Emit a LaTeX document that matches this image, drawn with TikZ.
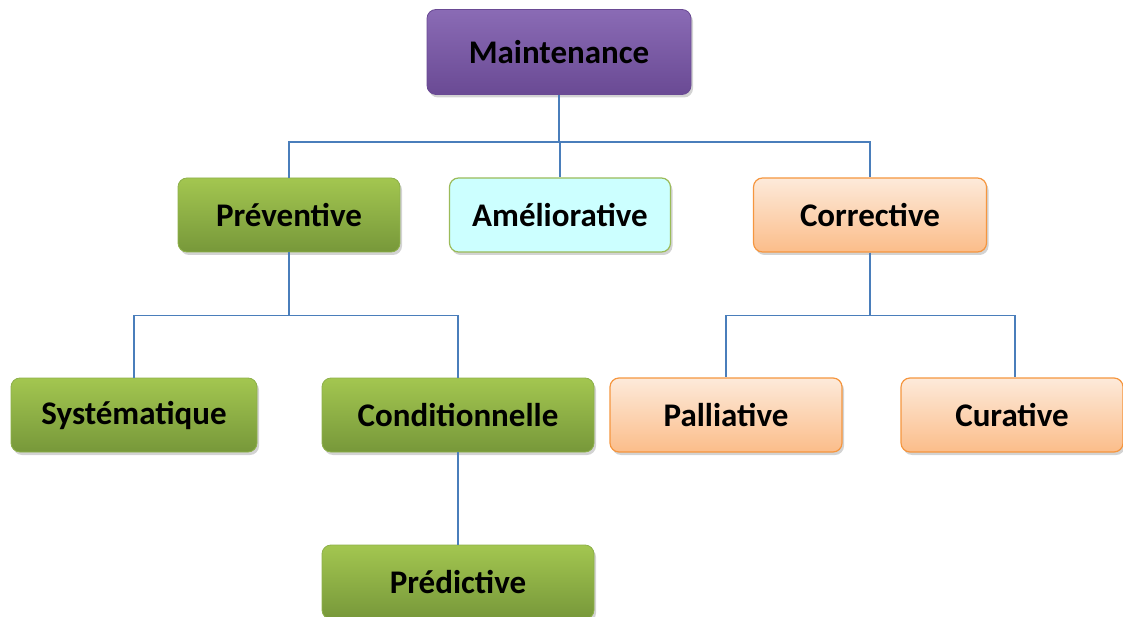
\documentclass[tikz,border=0pt]{standalone}
\usepackage{fontspec}
\setmainfont{Carlito}
\usetikzlibrary{shadows}
\definecolor{conn}{HTML}{4A7EBB}
\definecolor{gtop}{HTML}{A3C650}
\definecolor{gbot}{HTML}{77983A}
\definecolor{gline}{HTML}{8DB04A}
\definecolor{ptop}{HTML}{8A6BB5}
\definecolor{pbot}{HTML}{6A4A94}
\definecolor{otop}{HTML}{FDEADA}
\definecolor{obot}{HTML}{FBBD8A}
\definecolor{oline}{HTML}{F5963F}
\definecolor{cyanfill}{HTML}{CCFFFF}
\definecolor{cyanline}{HTML}{9BBB59}
\tikzset{
  box/.style={rounded corners=9pt, minimum height=74pt, inner sep=0pt,
    font=\fontsize{33}{38}\selectfont\bfseries,
    drop shadow={shadow xshift=2pt, shadow yshift=-3pt, opacity=0.35}},
  greenbox/.style={box, draw=gline, line width=0.8pt, top color=gtop, bottom color=gbot},
  orangebox/.style={box, draw=oline, line width=1.2pt, top color=otop, bottom color=obot},
  purplebox/.style={box, draw=pbot, line width=0.8pt, top color=ptop, bottom color=pbot},
  cyanbox/.style={box, draw=cyanline, line width=1.2pt, fill=cyanfill},
  link/.style={draw=conn, line width=1.4pt}
}
\begin{document}
\begin{tikzpicture}[x=1pt,y=-1pt]
\useasboundingbox (0,0) rectangle (1123,617);
\begin{scope}
\clip (0,0) rectangle (1123,617);
\node[purplebox, minimum width=264pt, minimum height=85pt] (m) at (559,52) {Maintenance};
\node[greenbox, minimum width=222pt] (prev) at (289,215) {Préventive};
\node[cyanbox, minimum width=221pt] (amel) at (560,215) {Améliorative};
\node[orangebox, minimum width=233pt] (corr) at (870,215) {Corrective};
\node[greenbox, minimum width=246pt] (sys) at (134,415) {Systématique};
\node[greenbox, minimum width=272pt] (cond) at (458,415) {Conditionnelle};
\node[orangebox, minimum width=232pt] (pall) at (726,415) {Palliative};
\node[orangebox, minimum width=222pt] (cur) at (1012,415) {Curative};
\node[greenbox, minimum width=272pt] (pred) at (458,582) {Prédictive};
\end{scope}
\draw[link] (m.south) -- ++(0,47) -| (prev.north);
\draw[link] (m.south) -- ++(0,47) -| (corr.north);
\draw[link] (m.south) -- ++(0,47) -| (amel.north);
\draw[link] (prev.south) -- ++(0,63) -| (sys.north);
\draw[link] (prev.south) -- ++(0,63) -| (cond.north);
\draw[link] (corr.south) -- ++(0,63) -| (pall.north);
\draw[link] (corr.south) -- ++(0,63) -| ([xshift=3pt]cur.north);
\draw[link] (cond.south) -- (pred.north);
\end{tikzpicture}
\end{document}
